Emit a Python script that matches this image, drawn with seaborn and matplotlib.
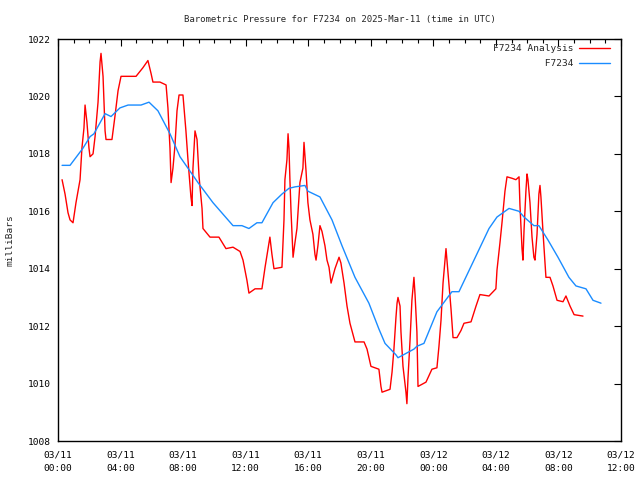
import numpy as np
import pandas as pd
import matplotlib
matplotlib.use("Agg")
import matplotlib.pyplot as plt
import matplotlib.dates as mdates
import seaborn as sns

# ---- data (hours after 2025-03-11 00:00 UTC, pressure in mbar) ----
analysis_hours = [0.26, 0.45, 0.64, 0.77, 0.96, 1.15, 1.41, 1.53, 1.66, 1.73, 1.85, 1.98, 2.05, 2.24, 2.37,
                  2.56, 2.69, 2.75, 2.88, 3.01, 3.07, 3.45, 3.64, 3.84, 4.03, 4.73, 4.99, 5.43, 5.75, 5.95,
                  6.07, 6.52, 6.91, 7.03, 7.16, 7.23, 7.35, 7.48, 7.61, 7.74, 7.99, 8.18, 8.31, 8.50, 8.57,
                  8.63, 8.76, 8.89, 9.02, 9.21, 9.27, 9.72, 9.97, 10.29, 10.74, 11.19, 11.64, 11.83, 12.08,
                  12.21, 12.60, 13.04, 13.24, 13.55, 13.68, 13.81, 14.32, 14.45, 14.51, 14.64, 14.71, 14.77,
                  14.83, 14.90, 15.03, 15.15, 15.28, 15.47, 15.66, 15.73, 15.86, 15.98, 16.11, 16.30, 16.43,
                  16.50, 16.62, 16.75, 16.88, 17.07, 17.20, 17.33, 17.46, 17.71, 17.97, 18.09, 18.29, 18.48,
                  18.67, 18.99, 19.57, 19.76, 20.01, 20.52, 20.65, 20.72, 21.23, 21.36, 21.48, 21.61, 21.68,
                  21.74, 21.87, 21.93, 22.06, 22.25, 22.31, 22.38, 22.51, 22.63, 22.76, 22.83, 22.95, 23.02,
                  23.53, 23.91, 24.23, 24.36, 24.49, 24.62, 24.81, 24.87, 25.00, 25.13, 25.26, 25.51, 25.77,
                  25.96, 26.41, 26.73, 26.98, 27.56, 28.00, 28.07, 28.26, 28.39, 28.58, 28.71, 29.03, 29.28,
                  29.48, 29.54, 29.67, 29.73, 29.80, 29.92, 29.99, 30.05, 30.18, 30.31, 30.43, 30.50, 30.63,
                  30.75, 30.82, 30.88, 31.01, 31.20, 31.46, 31.65, 31.91, 32.29, 32.48, 32.74, 33.00, 33.57]
analysis_mb = [1017.1, 1016.6, 1015.95, 1015.7, 1015.6, 1016.3, 1017.1, 1018.2, 1018.9, 1019.7, 1019.1, 1018.2,
               1017.9, 1018.0, 1018.6, 1019.8, 1021.2, 1021.5, 1020.7, 1018.8, 1018.5, 1018.5, 1019.3, 1020.2,
               1020.7, 1020.7, 1020.7, 1021.0, 1021.25, 1020.8, 1020.5, 1020.5, 1020.4, 1019.6, 1018.2, 1017.0,
               1017.5, 1018.3, 1019.5, 1020.05, 1020.05, 1018.8, 1017.8, 1016.5, 1016.2, 1017.5, 1018.8, 1018.5,
               1017.2, 1016.1, 1015.4, 1015.1, 1015.1, 1015.1, 1014.7, 1014.75, 1014.6, 1014.3, 1013.6, 1013.15,
               1013.3, 1013.3, 1014.05, 1015.1, 1014.5, 1014.0, 1014.05, 1015.7, 1017.1, 1017.8, 1018.7, 1018.2,
               1017.1, 1016.0, 1014.4, 1014.9, 1015.4, 1017.0, 1017.5, 1018.4, 1017.4, 1016.3, 1015.7, 1015.2,
               1014.5, 1014.3, 1014.8, 1015.5, 1015.3, 1014.8, 1014.3, 1014.05, 1013.5, 1014.0, 1014.4, 1014.2,
               1013.5, 1012.7, 1012.1, 1011.45, 1011.45, 1011.2, 1010.6, 1010.5, 1009.9, 1009.7, 1009.8, 1010.4,
               1011.2, 1012.3, 1012.8, 1013.0, 1012.7, 1011.8, 1010.6, 1009.7, 1009.3, 1010.2, 1011.5, 1012.9,
               1013.7, 1013.1, 1011.8, 1009.9, 1010.05, 1010.5, 1010.55, 1011.3, 1012.2, 1013.5, 1014.7, 1014.3,
               1013.4, 1012.6, 1011.6, 1011.6, 1011.85, 1012.1, 1012.15, 1012.7, 1013.1, 1013.05, 1013.3, 1013.95,
               1014.9, 1015.6, 1016.7, 1017.2, 1017.15, 1017.1, 1017.2, 1016.2, 1014.7, 1014.3, 1015.35, 1016.7,
               1017.3, 1017.1, 1016.3, 1015.1, 1014.4, 1014.3, 1015.2, 1016.6, 1016.9, 1016.5, 1015.3, 1013.7,
               1013.7, 1013.4, 1012.9, 1012.85, 1013.05, 1012.7, 1012.4, 1012.35]

obs_hours = [0.26, 0.77, 1.60, 2.05, 2.30, 3.01, 3.39, 3.96, 4.48, 5.31, 5.82, 6.39, 7.16, 7.80, 8.95, 9.91,
             11.19, 11.76, 12.21, 12.72, 13.04, 13.75, 14.32, 14.77, 15.15, 15.79, 15.98, 16.75, 17.52, 18.16,
             18.99, 19.88, 20.52, 20.91, 21.61, 21.74, 22.76, 22.95, 23.40, 24.23, 25.19, 25.64, 26.60, 27.56,
             28.07, 28.84, 29.48, 29.80, 30.43, 30.75, 31.33, 31.97, 32.67, 33.12, 33.76, 34.21, 34.72]
obs_mb = [1017.6, 1017.6, 1018.2, 1018.6, 1018.7, 1019.4, 1019.3, 1019.6, 1019.7, 1019.7, 1019.8, 1019.5,
          1018.7, 1017.9, 1017.0, 1016.3, 1015.5, 1015.5, 1015.4, 1015.6, 1015.6, 1016.3, 1016.6, 1016.8,
          1016.85, 1016.9, 1016.7, 1016.5, 1015.7, 1014.8, 1013.7, 1012.8, 1011.9, 1011.4, 1011.0, 1010.9,
          1011.2, 1011.3, 1011.4, 1012.5, 1013.2, 1013.2, 1014.3, 1015.4, 1015.8, 1016.1, 1016.0, 1015.8,
          1015.5, 1015.5, 1015.0, 1014.4, 1013.7, 1013.4, 1013.3, 1012.9, 1012.8]

series_labels = ["F7234 Analysis", "F7234"]
series_colors = ["#ff0000", "#1a8cff"]
title_text = "Barometric Pressure for F7234 on 2025-Mar-11 (time in UTC)"
ylabel_text = "milliBars"

start = pd.Timestamp("2025-03-11 00:00")
df_a = pd.DataFrame({"time": start + pd.to_timedelta(analysis_hours, unit="h"), "mb": analysis_mb,
                     "series": series_labels[0]})
df_o = pd.DataFrame({"time": start + pd.to_timedelta(obs_hours, unit="h"), "mb": obs_mb,
                     "series": series_labels[1]})
df = pd.concat([df_a, df_o], ignore_index=True)

sns.set_style("white")
plt.rcParams["font.family"] = ["DejaVu Sans Mono"]
plt.rcParams["font.size"] = 6.8

fig = plt.figure(figsize=(6.4, 4.8), dpi=100)
ax = fig.add_axes([58/640, 39/480, 563/640, 402/480])

sns.lineplot(data=df, x="time", y="mb", hue="series", palette=series_colors,
             hue_order=series_labels, ax=ax, linewidth=1.0, estimator=None, sort=False)

ax.set_xlim(start, start + pd.Timedelta(hours=36))
ax.set_ylim(1008, 1022)
ax.set_yticks(np.arange(1008, 1023, 2))
ax.yaxis.set_major_formatter(matplotlib.ticker.FormatStrFormatter("%d"))
ax.xaxis.set_major_locator(mdates.HourLocator(byhour=[0, 4, 8, 12, 16, 20]))
ax.xaxis.set_minor_locator(mdates.HourLocator())
ax.xaxis.set_major_formatter(mdates.DateFormatter("%m/%d\n%H:%M"))

ax.tick_params(axis="both", which="both", direction="in", top=True, right=True,
               colors="black", labelsize=6.8, width=0.8)
ax.tick_params(axis="x", which="major", length=5, pad=7)
ax.tick_params(axis="x", which="minor", length=3)
ax.tick_params(axis="y", which="major", length=5, pad=5)
for lbl in ax.get_xticklabels():
    lbl.set_linespacing(1.55)
for s in ax.spines.values():
    s.set_color("black")
    s.set_linewidth(1.0)
    s.set_visible(True)

ax.set_xlabel("")
ax.set_ylabel(ylabel_text, fontsize=6.8, labelpad=10)
ax.set_title(title_text, fontsize=6.5, pad=12)

handles, labels = ax.get_legend_handles_labels()
width = max(len(l) for l in labels)
labels = [l.rjust(width) for l in labels]
leg = ax.legend(handles, labels, loc="upper right", frameon=False, markerfirst=False, fontsize=6.8,
                handlelength=3.3, handletextpad=0.6, labelspacing=0.65, borderpad=0.0,
                borderaxespad=0.0, bbox_to_anchor=(1 - 11/563, 1 - 5/402))

fig.savefig("out.png", dpi=100)
